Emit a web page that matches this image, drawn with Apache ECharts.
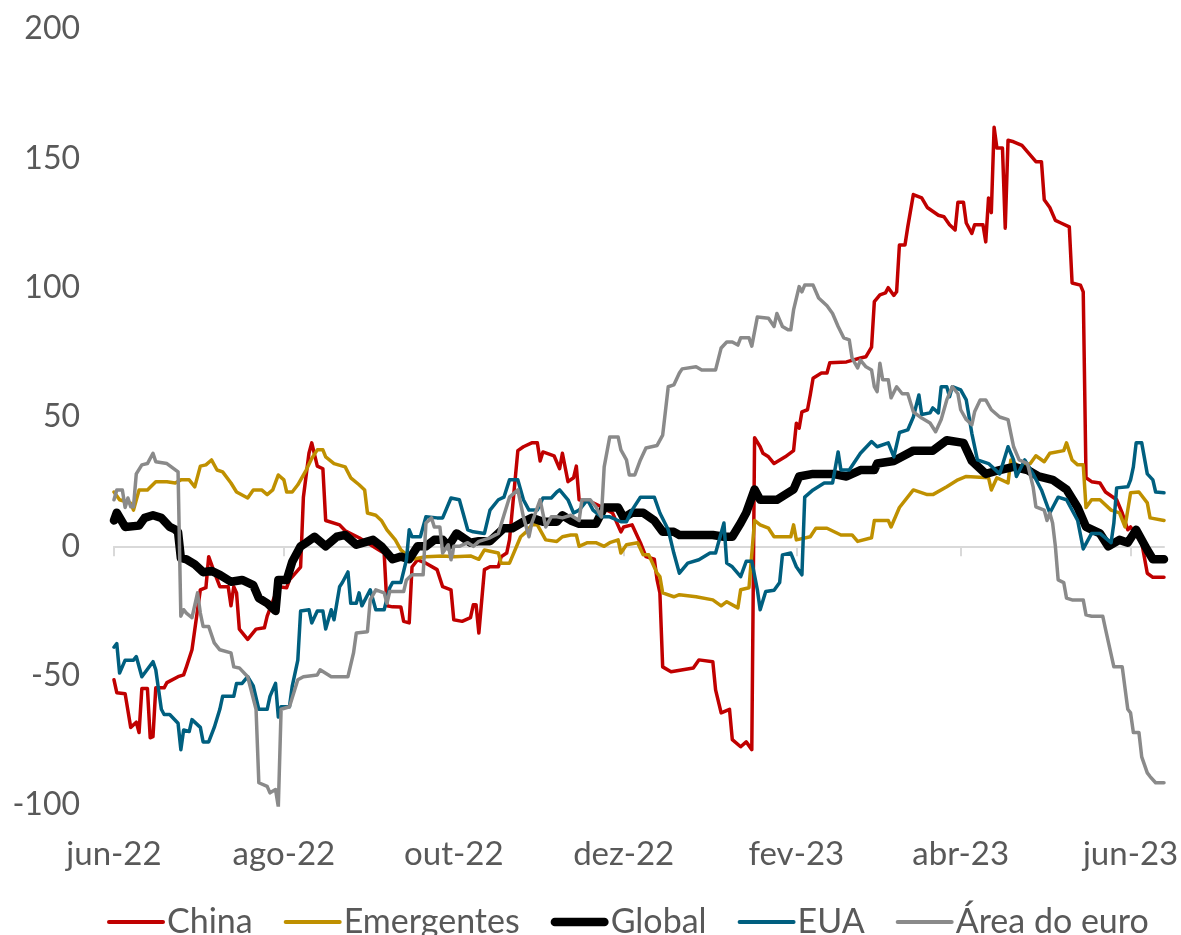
<!DOCTYPE html>
<html><head><meta charset="utf-8">
<script src="https://cdn.jsdelivr.net/npm/echarts@6/dist/echarts.min.js"></script>
<style>html,body{margin:0;padding:0;background:#fff}#c{width:1181px;height:935px}</style>
</head><body><div id="c"></div>
<script>
const seriesNames = ['China', 'Emergentes', 'Global', 'EUA', 'Área do euro'];
const monthAbbr = ['jan','fev','mar','abr','mai','jun','jul','ago','set','out','nov','dez'];
const tickMonths = [5, 7, 9, 11, 1, 3]; // jun, ago, out, dez, fev, abr
const startDate = '2022-06-01';
const endDate = '2023-06-13';
const yMin = -100, yMax = 200, yStep = 50;

const chinaData = [
['2022-06-01',-51.6],['2022-06-02',-56.6],['2022-06-05',-57],['2022-06-07',-70],['2022-06-09',-68],['2022-06-10',-72],
['2022-06-11',-55],['2022-06-13',-55],['2022-06-14',-74],['2022-06-15',-73.6],['2022-06-16',-54.7],['2022-06-19',-54.7],
['2022-06-20',-52.7],['2022-06-24',-50.4],['2022-06-26',-49.7],['2022-06-27',-46.6],['2022-06-29',-40],['2022-07-02',-16.8],
['2022-07-04',-16],['2022-07-05',-4],['2022-07-07',-10],['2022-07-09',-15.6],['2022-07-12',-15.6],['2022-07-13',-23],
['2022-07-14',-15.6],['2022-07-15',-18],['2022-07-16',-32],['2022-07-19',-36],['2022-07-22',-32],['2022-07-25',-31.5],
['2022-07-26',-27],['2022-07-30',-15.6],['2022-08-02',-16],['2022-08-03',-13],['2022-08-07',-8],['2022-08-08',19],
['2022-08-10',36],['2022-08-11',40],['2022-08-13',31],['2022-08-15',30],['2022-08-16',10],['2022-08-21',8.3],
['2022-08-23',6],['2022-08-28',3.3],['2022-09-05',-2],['2022-09-06',-2.6],['2022-09-07',-23],['2022-09-09',-23.4],
['2022-09-12',-23.5],['2022-09-13',-29],['2022-09-15',-29.6],['2022-09-16',-8],['2022-09-18',-5.2],['2022-09-21',-6.5],
['2022-09-25',-9],['2022-09-27',-15.6],['2022-09-30',-16.8],['2022-10-01',-28.4],['2022-10-04',-29],['2022-10-07',-27.6],
['2022-10-08',-22.6],['2022-10-09',-22.6],['2022-10-10',-33.5],['2022-10-12',-9],['2022-10-14',-7.9],['2022-10-17',-7.9],
['2022-10-18',-4],['2022-10-20',-2.6],['2022-10-21',2.5],['2022-10-24',37],['2022-10-26',38.5],['2022-10-29',40],
['2022-10-31',40],['2022-11-01',33],['2022-11-02',36.5],['2022-11-06',35],['2022-11-08',30],['2022-11-09',36],
['2022-11-11',25],['2022-11-13',26.5],['2022-11-14',31],['2022-11-15',18],['2022-11-20',16.8],['2022-11-23',15.3],
['2022-11-25',14],['2022-11-27',12.9],['2022-11-30',5.6],['2022-12-01',7.5],['2022-12-04',8.3],['2022-12-07',1.4],
['2022-12-09',-4],['2022-12-12',-5],['2022-12-13',-13],['2022-12-14',-18],['2022-12-15',-46.6],['2022-12-18',-48.5],
['2022-12-26',-47],['2022-12-28',-43.9],['2023-01-02',-44.6],['2023-01-03',-55.5],['2023-01-05',-64.4],['2023-01-08',-63],
['2023-01-09',-74.7],['2023-01-12',-77.5],['2023-01-14',-75.6],['2023-01-16',-78.6],['2023-01-17',42],['2023-01-19',38.5],
['2023-01-20',36],['2023-01-22',34.6],['2023-01-24',32],['2023-01-28',34.6],['2023-01-31',37],['2023-02-01',47.6],
['2023-02-02',45.7],['2023-02-03',52],['2023-02-05',52.8],['2023-02-06',58.6],['2023-02-07',65],['2023-02-10',67],
['2023-02-12',67],['2023-02-13',71],['2023-02-19',71.3],['2023-02-24',72.8],['2023-02-26',73.3],['2023-02-28',77],
['2023-03-01',94.6],['2023-03-03',97.2],['2023-03-05',98],['2023-03-06',100],['2023-03-08',97],['2023-03-09',98.4],
['2023-03-10',116.5],['2023-03-12',116.5],['2023-03-13',123.5],['2023-03-15',136],['2023-03-18',134.7],['2023-03-20',131],
['2023-03-24',128],['2023-03-26',127.4],['2023-03-28',124.3],['2023-03-30',122.3],['2023-03-31',133],['2023-04-02',133],
['2023-04-03',125],['2023-04-05',121],['2023-04-06',124.3],['2023-04-09',124.3],['2023-04-10',117.7],['2023-04-11',134.7],
['2023-04-12',129],['2023-04-13',162],['2023-04-14',154],['2023-04-16',154],['2023-04-17',123],['2023-04-18',157],
['2023-04-20',156.4],['2023-04-23',155],['2023-04-25',152.5],['2023-04-28',148.7],['2023-04-30',148.7],['2023-05-01',134],
['2023-05-03',131],['2023-05-05',126],['2023-05-07',125],['2023-05-10',123.5],['2023-05-11',101.8],['2023-05-14',101],
['2023-05-15',98.4],['2023-05-16',26.5],['2023-05-18',25],['2023-05-21',24.5],['2023-05-23',21],['2023-05-27',18],
['2023-05-29',12.9],['2023-05-31',6.4],['2023-06-01',7.5],['2023-06-05',1.4],['2023-06-07',-10.4],['2023-06-09',-12],
['2023-06-13',-12]
];

const emergentesData = [
['2022-06-01',21],['2022-06-03',18],['2022-06-07',16.7],['2022-06-08',14],['2022-06-10',21.8],['2022-06-13',21.8],
['2022-06-16',25],['2022-06-20',25],['2022-06-23',24.5],['2022-06-25',25.7],['2022-06-28',25.7],['2022-06-30',23],
['2022-07-02',31],['2022-07-04',31.5],['2022-07-06',33.4],['2022-07-08',29.5],['2022-07-10',28.8],['2022-07-13',24.5],
['2022-07-15',21],['2022-07-19',18.7],['2022-07-21',21.8],['2022-07-24',21.8],['2022-07-26',20],['2022-07-28',21.8],
['2022-07-30',27.6],['2022-08-01',25.7],['2022-08-02',21],['2022-08-04',21],['2022-08-06',23.8],['2022-08-09',29.5],
['2022-08-11',34],['2022-08-13',37.3],['2022-08-15',37.3],['2022-08-16',34.6],['2022-08-19',32],['2022-08-23',30.7],
['2022-08-25',26.5],['2022-08-28',23.8],['2022-08-30',21.8],['2022-08-31',12.9],['2022-09-03',12],['2022-09-05',10],
['2022-09-07',6.4],['2022-09-10',2.5],['2022-09-12',-1.4],['2022-09-16',-5],['2022-09-21',-4],['2022-09-27',-3.7],
['2022-10-01',-4],['2022-10-07',-3.7],['2022-10-10',-5],['2022-10-12',-1.4],['2022-10-17',-2.6],['2022-10-18',-6.5],
['2022-10-21',-6.5],['2022-10-25',3.7],['2022-10-27',5.6],['2022-10-29',8.3],['2022-10-31',8.3],['2022-11-03',2.5],
['2022-11-07',1.9],['2022-11-09',3.7],['2022-11-12',4.4],['2022-11-14',4.4],['2022-11-15',0],['2022-11-18',1.4],
['2022-11-21',1.4],['2022-11-24',0],['2022-11-26',1.4],['2022-11-29',2.5],['2022-11-30',-2.6],['2022-12-02',0.6],
['2022-12-06',1.4],['2022-12-08',-3.3],['2022-12-10',-3.3],['2022-12-13',-10.4],['2022-12-14',-11.7],['2022-12-15',-18],
['2022-12-19',-19.5],['2022-12-21',-18.7],['2022-12-27',-19.5],['2023-01-02',-20.7],['2023-01-05',-23],['2023-01-07',-21.4],
['2023-01-11',-23.8],['2023-01-12',-16.8],['2023-01-15',-16],['2023-01-17',10],['2023-01-19',8.3],['2023-01-22',7],
['2023-01-24',3.7],['2023-01-30',3.7],['2023-01-31',8.3],['2023-02-01',2.5],['2023-02-06',3.7],['2023-02-08',7],
['2023-02-12',7],['2023-02-17',4.4],['2023-02-21',4.4],['2023-02-23',1.9],['2023-02-28',3.3],['2023-03-01',10],
['2023-03-06',10],['2023-03-07',7.5],['2023-03-10',15],['2023-03-15',21.8],['2023-03-20',20],['2023-03-22',20],
['2023-03-27',23],['2023-03-31',25.7],['2023-04-03',27],['2023-04-11',26.5],['2023-04-12',21.8],['2023-04-14',26.5],
['2023-04-18',24.5],['2023-04-19',33.4],['2023-04-22',30.7],['2023-04-26',32],['2023-04-28',35],['2023-05-01',32.7],
['2023-05-03',36],['2023-05-08',37],['2023-05-09',40],['2023-05-11',33.4],['2023-05-13',31.5],['2023-05-15',31.5],
['2023-05-16',15],['2023-05-18',18],['2023-05-21',18],['2023-05-25',14],['2023-05-28',12.9],['2023-05-30',7.5],
['2023-06-01',20.7],['2023-06-04',21],['2023-06-07',16.8],['2023-06-08',11],['2023-06-13',10]
];

const globalData = [
['2022-06-01',10],['2022-06-02',13],['2022-06-05',7.5],['2022-06-10',8],['2022-06-12',11],['2022-06-15',12],
['2022-06-18',11],['2022-06-21',7.5],['2022-06-23',6.5],['2022-06-24',5.5],['2022-06-25',-4.5],['2022-06-27',-5],
['2022-06-30',-7],['2022-07-03',-10],['2022-07-06',-9.5],['2022-07-09',-11],['2022-07-13',-13.7],['2022-07-17',-13],
['2022-07-21',-15],['2022-07-23',-20],['2022-07-26',-22],['2022-07-29',-25],['2022-07-30',-13],['2022-08-02',-13],
['2022-08-04',-6],['2022-08-07',0],['2022-08-09',1.4],['2022-08-12',3.7],['2022-08-16',0],['2022-08-20',3.7],
['2022-08-23',4.4],['2022-08-27',0.6],['2022-09-02',2.5],['2022-09-05',0],['2022-09-09',-5],['2022-09-12',-4],
['2022-09-15',-5],['2022-09-18',0],['2022-09-21',0],['2022-09-24',2.5],['2022-09-27',2.5],['2022-09-29',0],
['2022-10-02',5],['2022-10-07',1.4],['2022-10-10',2],['2022-10-14',2],['2022-10-19',7],['2022-10-22',7],
['2022-10-26',9.5],['2022-10-29',11],['2022-11-02',9.5],['2022-11-07',9.5],['2022-11-09',12],['2022-11-12',10],
['2022-11-15',8.7],['2022-11-21',8.7],['2022-11-24',15],['2022-11-29',15],['2022-12-01',11],['2022-12-04',13],
['2022-12-08',13],['2022-12-12',10],['2022-12-15',5.6],['2022-12-19',5.6],['2022-12-21',4.4],['2023-01-02',4.4],
['2023-01-06',3.7],['2023-01-09',3.7],['2023-01-12',9],['2023-01-14',13],['2023-01-17',22],['2023-01-19',18],
['2023-01-25',18],['2023-01-31',22],['2023-02-02',27],['2023-02-07',28],['2023-02-14',28],['2023-02-19',27],
['2023-02-24',29.5],['2023-03-01',29.5],['2023-03-02',32],['2023-03-08',33],['2023-03-15',37],['2023-03-22',37],
['2023-03-27',41],['2023-04-02',40],['2023-04-05',33],['2023-04-10',28],['2023-04-15',29.5],['2023-04-20',30.7],
['2023-04-25',29.5],['2023-04-29',27],['2023-05-04',25.7],['2023-05-09',22],['2023-05-13',15],['2023-05-16',7.5],
['2023-05-21',5],['2023-05-24',0],['2023-05-28',2.5],['2023-05-31',1.4],['2023-06-03',6.4],['2023-06-07',-1.4],
['2023-06-09',-5],['2023-06-13',-5]
];

const euaData = [
['2022-06-01',-39],['2022-06-02',-37.6],['2022-06-03',-49],['2022-06-05',-44],['2022-06-08',-44],['2022-06-09',-42.6],
['2022-06-11',-50.4],['2022-06-15',-44.6],['2022-06-16',-47.7],['2022-06-18',-63],['2022-06-19',-65],['2022-06-21',-65],
['2022-06-24',-68.4],['2022-06-25',-78.6],['2022-06-26',-71],['2022-06-28',-71.6],['2022-06-29',-67],['2022-07-02',-70],
['2022-07-03',-75.6],['2022-07-05',-75.6],['2022-07-07',-70],['2022-07-09',-63],['2022-07-10',-58],['2022-07-14',-58],
['2022-07-15',-53],['2022-07-17',-53],['2022-07-19',-50.4],['2022-07-21',-54],['2022-07-23',-63],['2022-07-26',-63],
['2022-07-27',-58],['2022-07-29',-53],['2022-07-30',-66],['2022-07-31',-62],['2022-08-03',-62],['2022-08-04',-54],
['2022-08-06',-44],['2022-08-07',-25],['2022-08-10',-24.5],['2022-08-11',-29.6],['2022-08-13',-25],['2022-08-15',-25],
['2022-08-16',-32],['2022-08-18',-24.5],['2022-08-19',-28.4],['2022-08-21',-15.6],['2022-08-22',-14],['2022-08-24',-9.9],
['2022-08-25',-22],['2022-08-27',-22],['2022-08-28',-18],['2022-08-29',-23],['2022-09-01',-16.8],['2022-09-03',-24.5],
['2022-09-06',-24.5],['2022-09-08',-16],['2022-09-09',-14],['2022-09-12',-14],['2022-09-14',-5.2],['2022-09-15',6.4],
['2022-09-16',3.7],['2022-09-19',3.7],['2022-09-21',11.4],['2022-09-25',11],['2022-09-27',11],['2022-09-30',18.7],
['2022-10-03',18],['2022-10-06',6.4],['2022-10-08',5.6],['2022-10-12',5],['2022-10-14',14],['2022-10-17',18],
['2022-10-19',19],['2022-10-21',25.7],['2022-10-24',25.7],['2022-10-26',18],['2022-10-28',14],['2022-10-31',14],
['2022-11-02',18.7],['2022-11-05',18.7],['2022-11-07',21],['2022-11-08',21.8],['2022-11-11',18],['2022-11-13',12.9],
['2022-11-15',14],['2022-11-18',18],['2022-11-20',14],['2022-11-23',11.4],['2022-11-26',11.4],['2022-11-30',9.5],
['2022-12-02',9.5],['2022-12-04',14],['2022-12-07',19],['2022-12-12',19],['2022-12-14',12.9],['2022-12-17',6.4],
['2022-12-19',-2.6],['2022-12-21',-10.4],['2022-12-24',-6.5],['2022-12-28',-5.2],['2023-01-01',-2.6],['2023-01-03',-2.6],
['2023-01-06',9],['2023-01-07',-6.5],['2023-01-09',-7.9],['2023-01-12',-11.7],['2023-01-14',-5.8],['2023-01-16',-5.8],
['2023-01-18',-16.8],['2023-01-19',-24.5],['2023-01-21',-17.5],['2023-01-24',-17],['2023-01-26',-14],['2023-01-27',-3.3],
['2023-01-30',-2.6],['2023-02-01',-7.9],['2023-02-03',-11],['2023-02-04',19],['2023-02-07',21.8],['2023-02-11',24.5],
['2023-02-14',24.5],['2023-02-16',36.5],['2023-02-17',29.5],['2023-02-20',29.5],['2023-02-24',36],['2023-02-28',40.5],
['2023-03-02',38.5],['2023-03-06',40],['2023-03-08',34.6],['2023-03-10',44],['2023-03-13',45],['2023-03-15',50],
['2023-03-17',58.5],['2023-03-18',51],['2023-03-21',51.6],['2023-03-22',53.5],['2023-03-24',51.6],['2023-03-25',61.7],
['2023-03-27',61.7],['2023-03-28',57.8],['2023-03-29',61.7],['2023-04-01',60.5],['2023-04-03',56.6],['2023-04-05',43.7],
['2023-04-07',33.4],['2023-04-11',32],['2023-04-15',28],['2023-04-18',38.5],['2023-04-20',33.4],['2023-04-21',27],
['2023-04-24',33.4],['2023-04-27',28],['2023-04-30',21.8],['2023-05-03',12.9],['2023-05-06',19],['2023-05-09',18],
['2023-05-13',10],['2023-05-15',-1],['2023-05-18',5],['2023-05-21',5],['2023-05-25',1.4],['2023-05-26',9],
['2023-05-27',22.6],['2023-05-31',23],['2023-06-01',25.7],['2023-06-02',30.7],['2023-06-03',40],['2023-06-05',40],
['2023-06-07',28],['2023-06-09',25.7],['2023-06-10',21],['2023-06-13',20.7]
];

const euroData = [
['2022-06-01',18],['2022-06-02',21.8],['2022-06-04',21.8],['2022-06-05',15],['2022-06-06',18.7],['2022-06-07',15.3],
['2022-06-08',15.3],['2022-06-09',28],['2022-06-11',31.5],['2022-06-13',32],['2022-06-15',36],['2022-06-16',32.7],
['2022-06-20',32],['2022-06-24',28.8],['2022-06-25',-27],['2022-06-26',-24.5],['2022-06-27',-25.8],['2022-06-29',-27.6],
['2022-07-01',-18],['2022-07-02',-25.8],['2022-07-03',-31],['2022-07-05',-31],['2022-07-07',-37.3],['2022-07-09',-40],
['2022-07-13',-41.2],['2022-07-14',-46.6],['2022-07-16',-47],['2022-07-19',-50.4],['2022-07-22',-63],['2022-07-23',-91.4],
['2022-07-26',-92.8],['2022-07-27',-95.3],['2022-07-29',-94],['2022-07-30',-100.7],['2022-07-31',-63],['2022-08-03',-62],
['2022-08-06',-51.6],['2022-08-08',-50.4],['2022-08-13',-49.7],['2022-08-14',-47.7],['2022-08-18',-50.4],['2022-08-24',-50.4],
['2022-08-26',-41.2],['2022-08-27',-33.5],['2022-08-31',-33],['2022-09-01',-20.7],['2022-09-03',-16.8],['2022-09-06',-18],
['2022-09-07',-22],['2022-09-08',-17.5],['2022-09-13',-17.5],['2022-09-14',-13],['2022-09-16',-11],['2022-09-20',-11],
['2022-09-21',9],['2022-09-23',11],['2022-09-24',7.5],['2022-09-26',7.5],['2022-09-27',-2.6],['2022-09-29',0.6],
['2022-09-30',-5.2],['2022-10-01',0],['2022-10-03',0],['2022-10-06',1.4],['2022-10-08',0],['2022-10-10',1.9],
['2022-10-14',3.3],['2022-10-17',5],['2022-10-19',12],['2022-10-21',19],['2022-10-24',21.8],['2022-10-26',11.4],
['2022-10-28',3.7],['2022-10-29',9],['2022-11-01',18],['2022-11-03',7.5],['2022-11-05',11.4],['2022-11-07',11.4],
['2022-11-09',11],['2022-11-12',12],['2022-11-15',10],['2022-11-16',18],['2022-11-19',18],['2022-11-21',15.3],
['2022-11-23',11.4],['2022-11-24',30.7],['2022-11-26',42.3],['2022-11-29',42.3],['2022-11-30',37.3],['2022-12-02',33.4],
['2022-12-03',27.6],['2022-12-05',27.6],['2022-12-07',33.4],['2022-12-09',38],['2022-12-13',39],['2022-12-15',43],
['2022-12-17',61.7],['2022-12-19',62.4],['2022-12-21',67],['2022-12-22',68.6],['2022-12-27',69.4],['2022-12-29',68.2],
['2023-01-03',68.2],['2023-01-05',76.7],['2023-01-07',79],['2023-01-09',79],['2023-01-11',77.8],['2023-01-12',80.6],
['2023-01-15',80.6],['2023-01-16',77.4],['2023-01-18',88.7],['2023-01-22',88.2],['2023-01-24',85],['2023-01-25',90],
['2023-01-27',85],['2023-01-29',83.7],['2023-01-30',83.7],['2023-01-31',91.4],['2023-02-02',100.4],['2023-02-03',98.4],
['2023-02-04',101],['2023-02-07',101],['2023-02-09',96],['2023-02-12',93],['2023-02-14',90],['2023-02-16',85],
['2023-02-18',80.6],['2023-02-20',79.8],['2023-02-21',72.8],['2023-02-23',69],['2023-02-24',72],['2023-02-26',69.4],
['2023-02-28',68.2],['2023-03-01',61.7],['2023-03-02',59.8],['2023-03-03',70.8],['2023-03-04',64.4],['2023-03-06',64.4],
['2023-03-07',57.4],['2023-03-09',61.7],['2023-03-11',59],['2023-03-13',59],['2023-03-15',52],['2023-03-18',49.6],
['2023-03-21',47.7],['2023-03-23',44.3],['2023-03-25',49],['2023-03-27',56.6],['2023-03-29',61.7],['2023-03-31',59],
['2023-04-01',52.8],['2023-04-03',49],['2023-04-05',47],['2023-04-06',52],['2023-04-08',56.6],['2023-04-10',56.6],
['2023-04-12',52.8],['2023-04-15',50],['2023-04-18',49],['2023-04-19',43.7],['2023-04-20',38.5],['2023-04-22',33.4],
['2023-04-25',32],['2023-04-27',23],['2023-04-28',15.3],['2023-05-01',14],['2023-05-02',10],['2023-05-03',12.9],
['2023-05-04',9],['2023-05-05',0],['2023-05-06',-13],['2023-05-08',-14],['2023-05-09',-20],['2023-05-11',-20.7],
['2023-05-15',-20.7],['2023-05-16',-26.5],['2023-05-18',-27],['2023-05-22',-27],['2023-05-23',-32],['2023-05-26',-46.6],
['2023-05-29',-46.6],['2023-05-31',-63],['2023-06-01',-64.4],['2023-06-02',-72],['2023-06-04',-72],['2023-06-05',-81.4],
['2023-06-07',-87.6],['2023-06-08',-89],['2023-06-10',-91.4],['2023-06-13',-91.4]
];

const seriesData = [chinaData, emergentesData, globalData, euaData, euroData];
const seriesColors = ['#C00000', '#BF9000', '#000000', '#005F7F', '#8A8A8A'];
const seriesWidths = [3.5, 3.5, 8.5, 3.5, 3.5];

// calendar-day category axis
const days = [];
{
  const [sy, sm, sd] = startDate.split('-').map(Number);
  const [ey, em, ed] = endDate.split('-').map(Number);
  for (let t = Date.UTC(sy, sm - 1, sd); t <= Date.UTC(ey, em - 1, ed); t += 86400000) {
    days.push(new Date(t).toISOString().slice(0, 10));
  }
}
function isTickDay(v) {
  return v.slice(8) === '01' && tickMonths.indexOf(+v.slice(5, 7) - 1) >= 0;
}
function fmtMonth(v) {
  return monthAbbr[+v.slice(5, 7) - 1] + '-' + v.slice(2, 4);
}
// legend line icons (thin / thick), drawn as bars
function barIcon(w, h) {
  return 'path://M' + (h / 2) + ',0H' + (w - h / 2) + 'A' + (h / 2) + ',' + (h / 2) + ',0,0,1,' + (w - h / 2) + ',' + h +
    'H' + (h / 2) + 'A' + (h / 2) + ',' + (h / 2) + ',0,0,1,' + (h / 2) + ',0Z';
}

const FONT = 'Lato';
const TXT = '#595959';
const chart = echarts.init(document.getElementById('c'), null, { renderer: 'canvas' });
chart.setOption({
  animation: false,
  backgroundColor: '#fff',
  grid: { left: 114, right: 17, top: 29, bottom: 130, containLabel: false, outerBoundsMode: 'none' },
  legend: {
    data: seriesNames.map((name, k) => ({
      name, icon: barIcon(58, seriesWidths[k] > 5 ? 8.5 : 4)
    })),
    left: 102, top: 900,
    itemWidth: 58, itemHeight: 14, itemGap: 31,
    symbolKeepAspect: true,
    textStyle: { color: TXT, fontSize: 34, fontFamily: FONT, padding: [0, 0, 0, -3] }
  },
  xAxis: [
    {
      type: 'category', data: days, boundaryGap: false, position: 'bottom',
      axisLine: { show: false, onZero: false }, axisTick: { show: false },
      splitLine: { show: false },
      axisLabel: { interval: (i, v) => isTickDay(v), formatter: fmtMonth, color: TXT, fontSize: 33, fontFamily: FONT, margin: 33 }
    },
    {
      type: 'category', data: days, boundaryGap: false, position: 'bottom',
      axisLine: { show: true, onZero: true, lineStyle: { color: '#D9D9D9', width: 2 } },
      axisTick: { show: true, interval: (i, v) => isTickDay(v), length: 10, lineStyle: { color: '#D9D9D9', width: 2 } },
      axisLabel: { show: false }, splitLine: { show: false }
    }
  ],
  yAxis: {
    type: 'value', min: yMin, max: yMax, interval: yStep,
    axisLine: { show: false }, axisTick: { show: false }, splitLine: { show: false },
    axisLabel: { color: TXT, fontSize: 32, fontFamily: FONT, margin: 34 }
  },
  series: seriesNames.map((name, k) => ({
    name, type: 'line', xAxisIndex: 0, data: seriesData[k],
    symbol: 'none', showSymbol: false,
    lineStyle: { color: seriesColors[k], width: seriesWidths[k], cap: 'round', join: 'round' },
    itemStyle: { color: seriesColors[k] },
    emphasis: { disabled: true }
  }))
});
</script></body></html>
